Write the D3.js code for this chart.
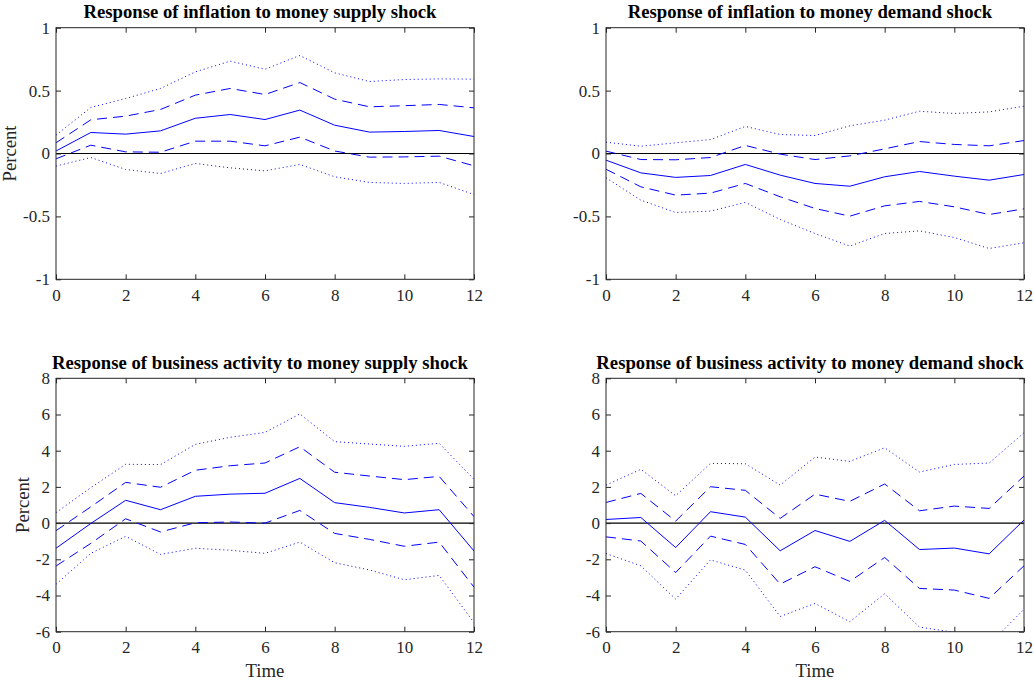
<!DOCTYPE html>
<html>
<head>
<meta charset="utf-8">
<script src="https://cdn.jsdelivr.net/npm/d3@7"></script>
<style>
  body { margin: 0; background: #fff; }
  svg { display: block; font-family: "Liberation Serif", "Times New Roman", serif; }
</style>
</head>
<body>
<svg id="chart" width="1034" height="683"></svg>
<script>
// Horizon (x values) shared by every panel
const horizon = [0, 1, 2, 3, 4, 5, 6, 7, 8, 9, 10, 11, 12];
const xTicks = [0, 2, 4, 6, 8, 10, 12];

// Tick labels for the two rows
const inflTicks = [-1, -0.5, 0, 0.5, 1];
const bizTicks = [-6, -4, -2, 0, 2, 4, 6, 8];

const titles = [
    "Response of inflation to money supply shock",
    "Response of inflation to money demand shock",
    "Response of business activity to money supply shock",
    "Response of business activity to money demand shock"
];

// Inflation <- money supply shock
const inflSupplyMid  = [0.02, 0.167, 0.154, 0.18, 0.28, 0.31, 0.27, 0.345, 0.225, 0.17, 0.175, 0.183, 0.135];
const inflSupplyUp1  = [0.085, 0.268, 0.297, 0.35, 0.464, 0.517, 0.469, 0.564, 0.432, 0.371, 0.38, 0.39, 0.363];
const inflSupplyLo1  = [-0.042, 0.066, 0.013, 0.01, 0.098, 0.098, 0.061, 0.13, 0.02, -0.029, -0.027, -0.021, -0.098];
const inflSupplyUp2  = [0.146, 0.366, 0.437, 0.517, 0.649, 0.734, 0.67, 0.779, 0.641, 0.572, 0.588, 0.593, 0.591];
const inflSupplyLo2  = [-0.1, -0.032, -0.127, -0.159, -0.079, -0.114, -0.138, -0.087, -0.185, -0.23, -0.238, -0.23, -0.326];

// Inflation <- money demand shock
const inflDemandMid  = [-0.053, -0.154, -0.19, -0.175, -0.087, -0.172, -0.238, -0.26, -0.185, -0.143, -0.18, -0.212, -0.167];
const inflDemandUp1  = [0.019, -0.048, -0.05, -0.032, 0.064, -0.005, -0.048, -0.019, 0.037, 0.095, 0.072, 0.061, 0.103];
const inflDemandLo1  = [-0.125, -0.265, -0.331, -0.315, -0.238, -0.344, -0.437, -0.498, -0.416, -0.381, -0.424, -0.485, -0.44];
const inflDemandUp2  = [0.09, 0.058, 0.085, 0.111, 0.215, 0.151, 0.143, 0.22, 0.265, 0.336, 0.318, 0.331, 0.376];
const inflDemandLo2  = [-0.193, -0.371, -0.469, -0.458, -0.389, -0.524, -0.636, -0.736, -0.636, -0.615, -0.668, -0.755, -0.71];

// Business activity <- money supply shock
const bizSupplyMid   = [-1.39, -0.02, 1.26, 0.74, 1.48, 1.6, 1.65, 2.47, 1.13, 0.87, 0.56, 0.74, -1.54];
const bizSupplyUp1   = [-0.42, 0.9, 2.25, 1.98, 2.92, 3.17, 3.32, 4.22, 2.81, 2.6, 2.4, 2.58, 0.36];
const bizSupplyLo1   = [-2.37, -1.12, 0.24, -0.49, 0.02, 0.06, 0.0, 0.7, -0.57, -0.9, -1.28, -1.05, -3.54];
const bizSupplyUp2   = [0.58, 1.96, 3.25, 3.23, 4.35, 4.74, 5.01, 6.03, 4.5, 4.37, 4.24, 4.41, 2.42];
const bizSupplyLo2   = [-3.38, -1.67, -0.73, -1.73, -1.39, -1.5, -1.67, -1.05, -2.19, -2.59, -3.13, -2.89, -5.5];

// Business activity <- money demand shock
const bizDemandMid   = [0.2, 0.31, -1.35, 0.63, 0.33, -1.53, -0.41, -1.01, 0.15, -1.46, -1.38, -1.7, 0.17];
const bizDemandUp1   = [1.14, 1.64, 0.11, 2.01, 1.81, 0.26, 1.6, 1.2, 2.16, 0.68, 0.94, 0.81, 2.6];
const bizDemandLo1   = [-0.76, -0.99, -2.73, -0.72, -1.18, -3.37, -2.41, -3.22, -1.9, -3.61, -3.7, -4.16, -2.36];
const bizDemandUp2   = [2.1, 2.97, 1.51, 3.3, 3.28, 2.1, 3.65, 3.41, 4.16, 2.82, 3.24, 3.32, 4.99];
const bizDemandLo2   = [-1.68, -2.36, -4.2, -2.03, -2.6, -5.16, -4.44, -5.45, -3.9, -5.75, -6.03, -6.7, -4.76];

const svg = d3.select("#chart");
const axisColor = "#262626";
const lineBlue = "#0000ff";
const tickFont = 17;
const labelFont = 18.7;

function drawPanel(p, idx) {
    const x = d3.scaleLinear().domain([0, 12]).range([p.left, p.right]);
    const y = d3.scaleLinear().domain(p.yDomain).range([p.bottom, p.top]);
    const g = svg.append("g");

    // clip so bands that leave the box are cut at the edge
    const clipId = "clip" + idx;
    svg.append("clipPath").attr("id", clipId)
        .append("rect")
        .attr("x", p.left).attr("y", p.top)
        .attr("width", p.right - p.left).attr("height", p.bottom - p.top);

    const plot = g.append("g").attr("clip-path", `url(#${clipId})`);

    // zero line
    plot.append("line")
        .attr("x1", x(0)).attr("x2", x(12))
        .attr("y1", y(0)).attr("y2", y(0))
        .attr("stroke", "#000")
        .attr("stroke-width", 1.1);

    const line = d3.line().x((d, i) => x(horizon[i])).y(d => y(d));
    const curves = [
        { data: p.lo2, dash: "1,3" },
        { data: p.up2, dash: "1,3" },
        { data: p.lo1, dash: "10,6" },
        { data: p.up1, dash: "10,6" },
        { data: p.mid, dash: null }
    ];
    curves.forEach(c => {
        plot.append("path")
            .attr("d", line(c.data))
            .attr("fill", "none")
            .attr("stroke", lineBlue)
            .attr("stroke-width", 1)
            .attr("stroke-dasharray", c.dash);
    });

    // axes with inward ticks on all four sides
    const fmt = d => String(d);
    const left = d3.axisLeft(y).tickValues(p.yTicks).tickFormat(fmt)
        .tickSizeInner(-5).tickSizeOuter(0).tickPadding(6);
    const right = d3.axisRight(y).tickValues(p.yTicks).tickFormat("")
        .tickSizeInner(-5).tickSizeOuter(0);
    const bottom = d3.axisBottom(x).tickValues(xTicks).tickFormat(fmt)
        .tickSizeInner(-5).tickSizeOuter(0).tickPadding(9.5);
    const top = d3.axisTop(x).tickValues(xTicks).tickFormat("")
        .tickSizeInner(-5).tickSizeOuter(0);

    const axes = [
        g.append("g").attr("transform", `translate(${p.left},0)`).call(left),
        g.append("g").attr("transform", `translate(${p.right},0)`).call(right),
        g.append("g").attr("transform", `translate(0,${p.bottom})`).call(bottom),
        g.append("g").attr("transform", `translate(0,${p.top})`).call(top)
    ];
    axes.forEach(a => {
        a.select(".domain").remove();
        a.selectAll(".tick line").attr("stroke", axisColor);
        a.selectAll(".tick text")
            .attr("fill", axisColor)
            .style("font-family", "Liberation Serif")
            .style("font-size", tickFont + "px");
    });

    // box
    g.append("rect")
        .attr("x", p.left).attr("y", p.top)
        .attr("width", p.right - p.left).attr("height", p.bottom - p.top)
        .attr("fill", "none")
        .attr("stroke", axisColor)
        .attr("stroke-width", 1);

    // title
    g.append("text")
        .attr("x", (p.left + p.right) / 2 - 5)
        .attr("y", p.top - 9.7)
        .attr("text-anchor", "middle")
        .style("font-weight", "bold")
        .style("font-size", labelFont + "px")
        .attr("fill", "#000")
        .text(p.title);

    if (p.ylabelX) {
        g.append("text")
            .attr("transform", `translate(${p.ylabelX},${(p.top + p.bottom) / 2}) rotate(-90)`)
            .attr("text-anchor", "middle")
            .style("font-size", labelFont + "px")
            .attr("fill", axisColor)
            .text("Percent");
    }
    if (p.xlabel) {
        g.append("text")
            .attr("x", (p.left + p.right) / 2)
            .attr("y", p.bottom + 45)
            .attr("text-anchor", "middle")
            .style("font-size", labelFont + "px")
            .attr("fill", axisColor)
            .text("Time");
    }
}

const panels = [
    { left: 56, right: 474, top: 27.7, bottom: 279.3, yDomain: [-1, 1], yTicks: inflTicks,
      title: titles[0], ylabelX: 16,
      mid: inflSupplyMid, up1: inflSupplyUp1, lo1: inflSupplyLo1, up2: inflSupplyUp2, lo2: inflSupplyLo2 },
    { left: 606, right: 1024, top: 27.7, bottom: 279.3, yDomain: [-1, 1], yTicks: inflTicks,
      title: titles[1],
      mid: inflDemandMid, up1: inflDemandUp1, lo1: inflDemandLo1, up2: inflDemandUp2, lo2: inflDemandLo2 },
    { left: 56, right: 474, top: 378.3, bottom: 631.7, yDomain: [-6, 8], yTicks: bizTicks,
      title: titles[2], ylabelX: 29.3, xlabel: true,
      mid: bizSupplyMid, up1: bizSupplyUp1, lo1: bizSupplyLo1, up2: bizSupplyUp2, lo2: bizSupplyLo2 },
    { left: 606, right: 1024, top: 378.3, bottom: 631.7, yDomain: [-6, 8], yTicks: bizTicks,
      title: titles[3], xlabel: true,
      mid: bizDemandMid, up1: bizDemandUp1, lo1: bizDemandLo1, up2: bizDemandUp2, lo2: bizDemandLo2 }
];

panels.forEach(drawPanel);
</script>
</body>
</html>
